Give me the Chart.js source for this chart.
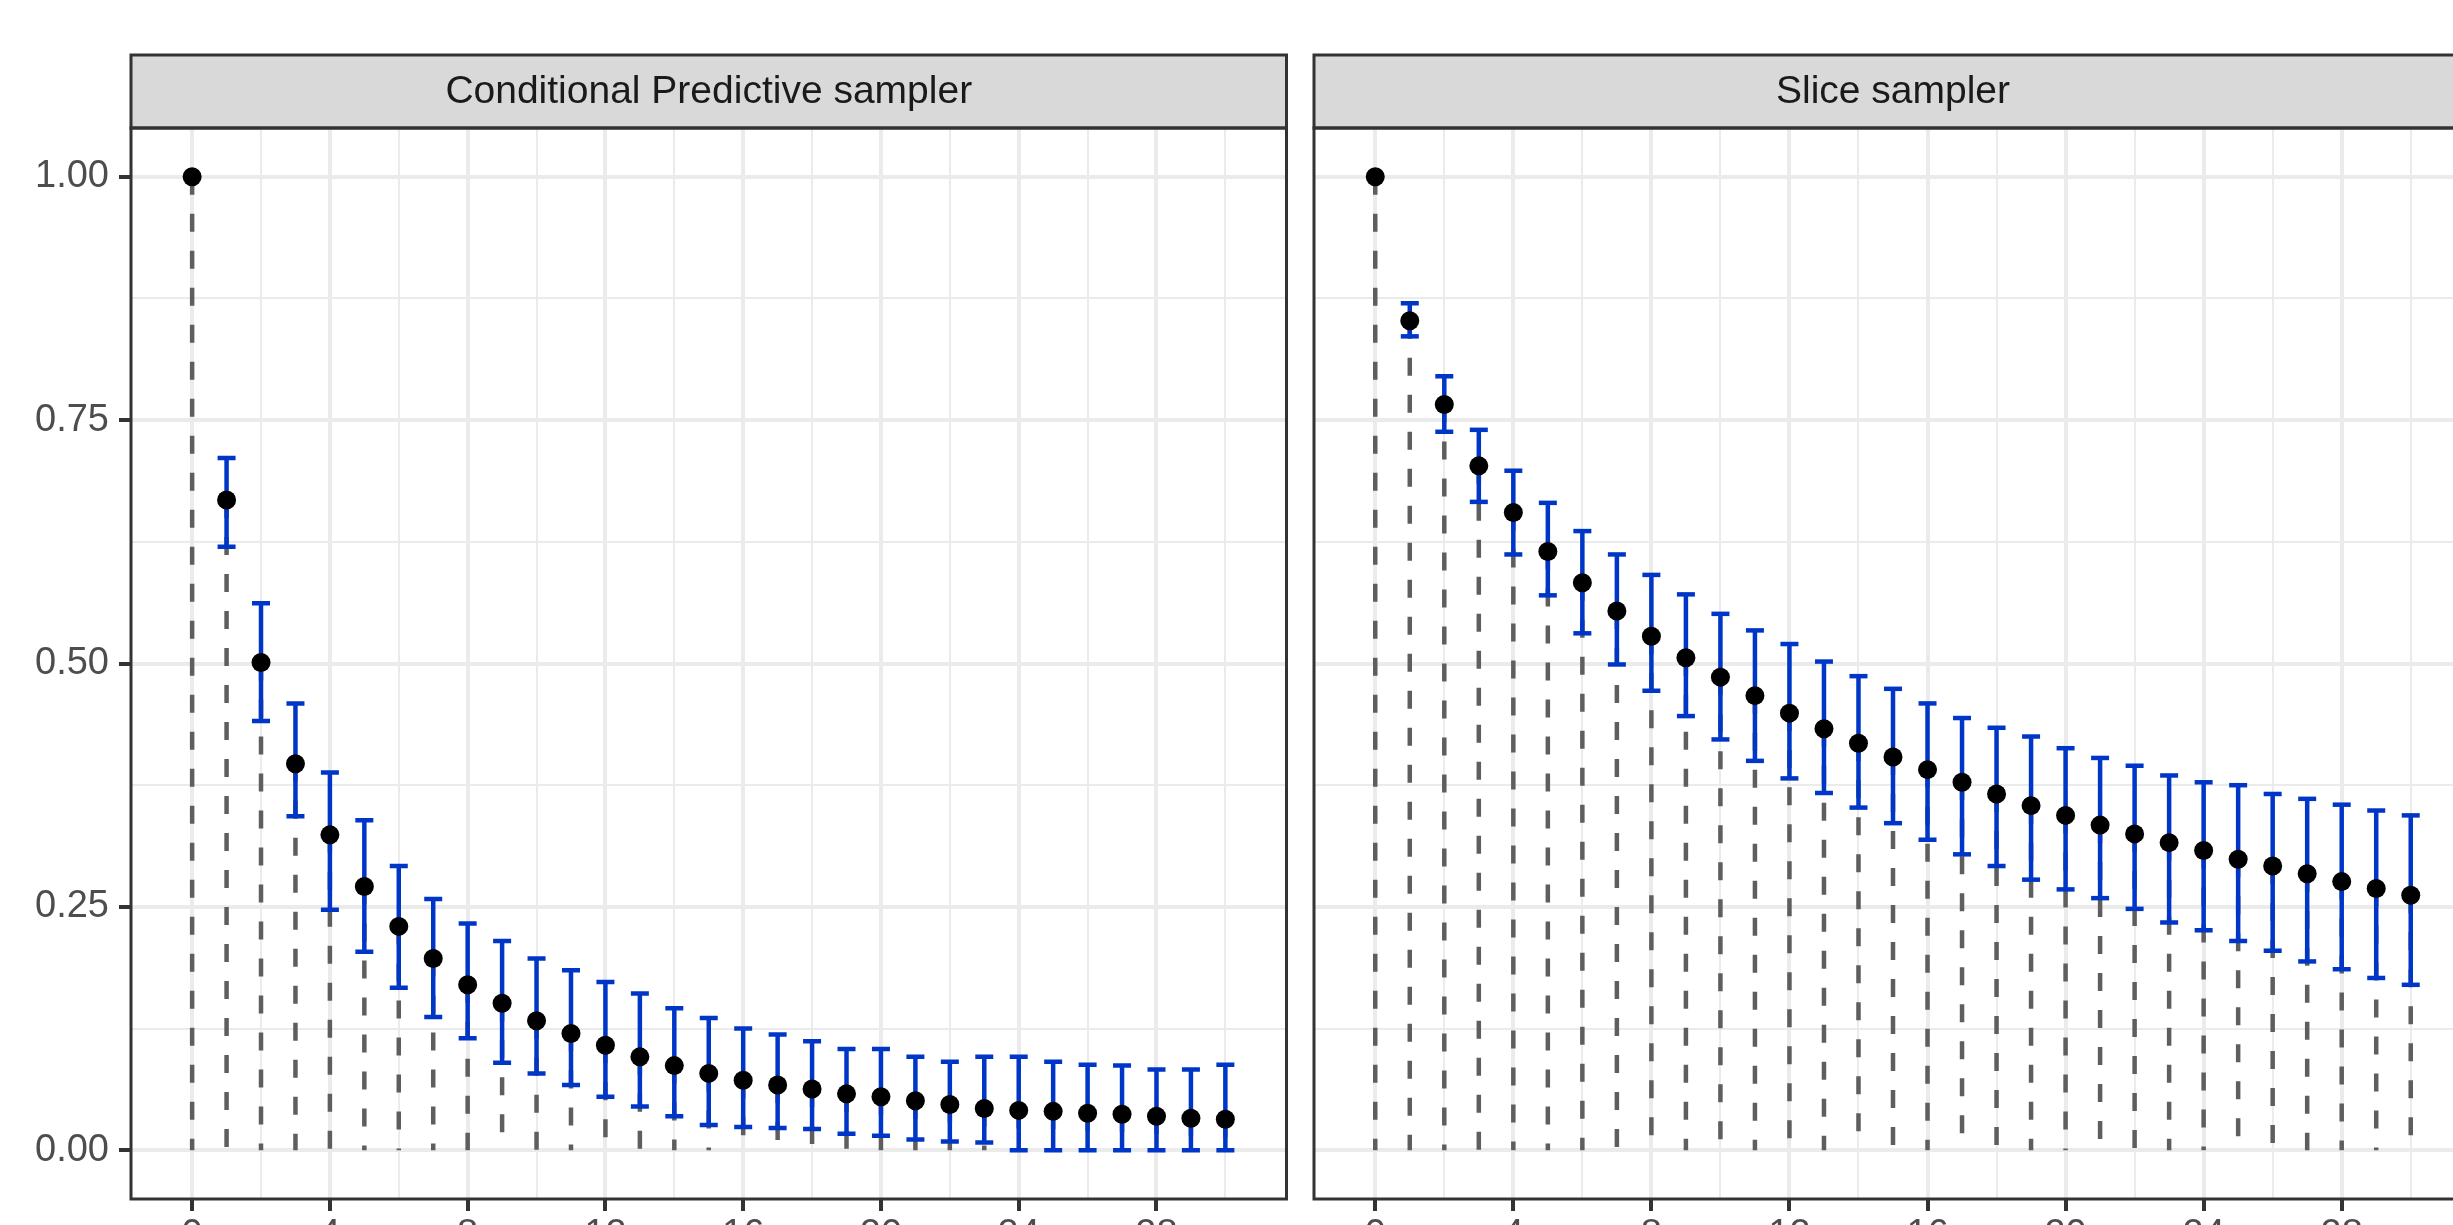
<!DOCTYPE html>
<html>
<head>
<meta charset="utf-8">
<title>ACF comparison</title>
<script src="https://cdn.jsdelivr.net/npm/chart.js@4.4.1/dist/chart.umd.min.js"></script>
<style>
    html, body { margin: 0; padding: 0; background: #ffffff; overflow: hidden; }
    #wrap { position: relative; width: 2453px; height: 1225px; overflow: hidden; background: #ffffff; }
    #wrap canvas { position: absolute; top: 0; }
</style>
</head>
<body>
<div id="wrap">
    <canvas id="leftChart" width="1300" height="1300" style="left:0px;width:1300px;height:1300px"></canvas>
    <canvas id="rightChart" width="1200" height="1300" style="left:1300px;width:1200px;height:1300px"></canvas>
</div>
<script>
// facet titles
const panelTitles = ['Conditional Predictive sampler', 'Slice sampler'];

// lags 0..30
const lags = [0, 1, 2, 3, 4, 5, 6, 7, 8, 9, 10, 11, 12, 13, 14, 15, 16, 17, 18, 19, 20, 21, 22, 23, 24, 25, 26, 27, 28, 29, 30];

// Conditional Predictive sampler: acf estimate and interval
const cpAcf = [1.000, 0.668, 0.501, 0.397, 0.324, 0.271, 0.230, 0.197, 0.170, 0.151, 0.133, 0.120, 0.108, 0.096, 0.087, 0.079,
    0.072, 0.067, 0.063, 0.058, 0.055, 0.051, 0.047, 0.043, 0.041, 0.040, 0.038, 0.037, 0.035, 0.033, 0.032];
const cpHigh = [null, 0.711, 0.562, 0.459, 0.388, 0.339, 0.292, 0.258, 0.233, 0.215, 0.197, 0.185, 0.173, 0.161, 0.146, 0.136,
    0.125, 0.119, 0.112, 0.104, 0.104, 0.096, 0.091, 0.096, 0.096, 0.091, 0.088, 0.087, 0.083, 0.083, 0.088];
const cpLow = [null, 0.620, 0.441, 0.343, 0.247, 0.204, 0.167, 0.137, 0.115, 0.090, 0.079, 0.067, 0.055, 0.045, 0.035, 0.026,
    0.024, 0.023, 0.022, 0.017, 0.015, 0.011, 0.009, 0.008, 0.000, 0.000, 0.000, 0.000, 0.000, 0.000, 0.000];

// Slice sampler: acf estimate and interval
const sliceAcf = [1.000, 0.852, 0.766, 0.703, 0.655, 0.615, 0.583, 0.554, 0.528, 0.506, 0.486, 0.467, 0.449, 0.433, 0.418, 0.404,
    0.391, 0.378, 0.366, 0.354, 0.344, 0.334, 0.325, 0.316, 0.308, 0.299, 0.292, 0.284, 0.276, 0.269, 0.262];
const sliceHigh = [null, 0.870, 0.795, 0.740, 0.698, 0.665, 0.636, 0.612, 0.591, 0.571, 0.551, 0.534, 0.520, 0.502, 0.487, 0.474,
    0.459, 0.444, 0.434, 0.425, 0.413, 0.403, 0.395, 0.385, 0.378, 0.375, 0.366, 0.361, 0.355, 0.349, 0.344];
const sliceLow = [null, 0.836, 0.738, 0.666, 0.612, 0.570, 0.531, 0.499, 0.472, 0.446, 0.422, 0.400, 0.382, 0.367, 0.352, 0.336,
    0.319, 0.304, 0.292, 0.278, 0.268, 0.259, 0.248, 0.234, 0.226, 0.215, 0.205, 0.194, 0.186, 0.177, 0.170];

// axis breaks (labelled ticks)
const xBreaks = [0, 4, 8, 12, 16, 20, 24, 28];
const yBreaks = [0, 0.25, 0.5, 0.75, 1];

const FONT = '"Liberation Sans", Arial, Helvetica, sans-serif';
const BLUE = '#0036C8';

function isBreak(list, v) {
    return list.some(b => Math.abs(b - v) < 1e-9);
}

// gray strip on top plus the panel border, like facet_wrap + theme_bw
const panelFrame = {
    id: 'panelFrame',
    beforeDraw(chart, args, opts) {
        const a = chart.chartArea;
        const ctx = chart.ctx;
        ctx.save();
        ctx.fillStyle = '#D9D9D9';
        ctx.fillRect(a.left, opts.stripTop, a.right - a.left, a.top - opts.stripTop);
        ctx.restore();
    },
    afterDraw(chart, args, opts) {
        const a = chart.chartArea;
        const ctx = chart.ctx;
        ctx.save();
        ctx.strokeStyle = '#333333';
        ctx.lineWidth = 3;
        ctx.strokeRect(a.left, opts.stripTop, a.right - a.left, a.top - opts.stripTop);
        ctx.strokeRect(a.left, a.top, a.right - a.left, a.bottom - a.top);
        ctx.fillStyle = '#1A1A1A';
        ctx.font = '39px ' + FONT;
        ctx.textAlign = 'center';
        ctx.textBaseline = 'middle';
        ctx.fillText(opts.title, (a.left + a.right) / 2, (opts.stripTop + a.top) / 2 + 1);
        ctx.restore();
    }
};

function stems(acf) {
    const out = [];
    lags.forEach((l, i) => {
        out.push({ x: l, y: acf[i] }, { x: l, y: 0 }, { x: l, y: null });
    });
    return out;
}

function bars(low, high) {
    const out = [];
    lags.forEach((l, i) => {
        if (low[i] === null) return;
        out.push({ x: l, y: high[i] }, { x: l, y: low[i] }, { x: l, y: null });
    });
    return out;
}

function caps(low, high) {
    const out = [];
    lags.forEach((l, i) => {
        if (low[i] === null) return;
        out.push({ x: l, y: high[i] }, { x: l, y: low[i] });
    });
    return out;
}

function makePanel(id, title, acf, low, high, showY, padding) {
    const ctx = document.getElementById(id).getContext('2d');
    return new Chart(ctx, {
        type: 'scatter',
        data: {
            datasets: [{
                data: lags.map((l, i) => ({ x: l, y: acf[i] })),
                pointRadius: 9.5,
                pointBackgroundColor: '#000000',
                pointBorderWidth: 0,
                order: 0
            }, {
                data: caps(low, high),
                pointStyle: 'line',
                pointRadius: 9,
                pointBorderColor: BLUE,
                pointBorderWidth: 4.5,
                order: 1
            }, {
                type: 'line',
                data: bars(low, high),
                borderColor: BLUE,
                borderWidth: 4.5,
                pointRadius: 0,
                spanGaps: false,
                order: 2
            }, {
                type: 'line',
                data: stems(acf),
                borderColor: '#5E5E5E',
                borderWidth: 4.5,
                borderDash: [18, 19],
                pointRadius: 0,
                spanGaps: false,
                order: 3
            }]
        },
        options: {
            responsive: false,
            animation: false,
            events: [],
            layout: { padding: padding },
            scales: {
                x: {
                    type: 'linear',
                    min: -1.775,
                    max: 31.775,
                    afterFit: s => { s.height = 101; },
                    border: { display: false },
                    grid: {
                        color: '#EBEBEB',
                        lineWidth: c => (c.tick && isBreak(xBreaks, c.tick.value)) ? 4 : 2,
                        tickColor: c => (c.tick && isBreak(xBreaks, c.tick.value)) ? '#333333' : 'rgba(0,0,0,0)',
                        tickWidth: 4,
                        tickLength: 12
                    },
                    ticks: {
                        stepSize: 2,
                        includeBounds: false,
                        autoSkip: false,
                        maxRotation: 0,
                        padding: 2,
                        color: '#4D4D4D',
                        font: { family: FONT, size: 38 },
                        callback: v => isBreak(xBreaks, v) ? String(v) : ''
                    }
                },
                y: {
                    type: 'linear',
                    min: -0.05,
                    max: 1.05,
                    afterFit: s => { s.width = showY ? 131 : 0; },
                    border: { display: false },
                    grid: {
                        color: '#EBEBEB',
                        lineWidth: c => (c.tick && isBreak(yBreaks, c.tick.value)) ? 4 : 2,
                        drawTicks: showY,
                        tickColor: c => (c.tick && isBreak(yBreaks, c.tick.value)) ? '#333333' : 'rgba(0,0,0,0)',
                        tickWidth: 4,
                        tickLength: 12
                    },
                    ticks: {
                        display: showY,
                        stepSize: 0.125,
                        includeBounds: false,
                        autoSkip: false,
                        padding: 10,
                        color: '#4D4D4D',
                        font: { family: FONT, size: 38 },
                        callback: v => isBreak(yBreaks, v) ? v.toFixed(2) : ''
                    }
                }
            },
            plugins: {
                legend: { display: false },
                tooltip: { enabled: false },
                panelFrame: { title: title, stripTop: 55 }
            }
        },
        plugins: [panelFrame]
    });
}

makePanel('leftChart', panelTitles[0], cpAcf, cpLow, cpHigh, true,
    { left: 0, right: 11, top: 128, bottom: 0 });
makePanel('rightChart', panelTitles[1], sliceAcf, sliceLow, sliceHigh, false,
    { left: 14, right: 28, top: 128, bottom: 0 });
</script>
</body>
</html>
